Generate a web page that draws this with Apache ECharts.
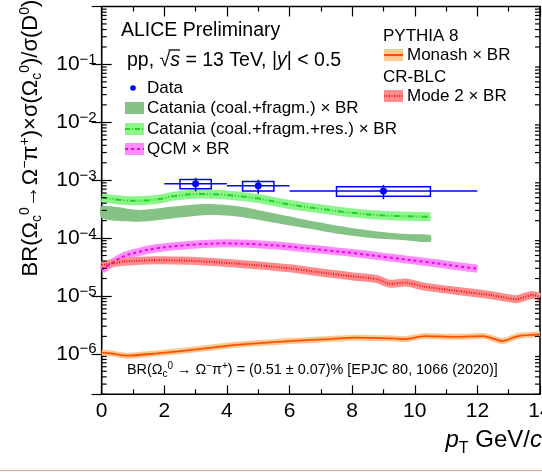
<!DOCTYPE html>
<html>
<head>
<meta charset="utf-8">
<script src="https://cdn.jsdelivr.net/npm/echarts@6/dist/echarts.min.js"></script>
<style>
html, body { margin: 0; padding: 0; background: #fff; overflow: hidden; }
#chart { width: 542px; height: 472px; }
</style>
</head>
<body>
<div id="chart"></div>
<script>
// ---- measured ratio: ALICE data points ----
const dataPt    = [3, 5, 9];
const dataVal   = [8.7e-4, 8.0e-4, 6.5e-4];
const dataXErr  = [1, 1, 3];
const dataStat  = [2.3e-4, 2.2e-4, 1.8e-4];
const dataSyst  = [1.6e-4, 1.5e-4, 1.2e-4];
const dataBoxHW = [0.5, 0.5, 1.5];

// ---- Catania (coal.+fragm.) band ----
const cataniaPt = [0, 1.2, 2.3, 3.36, 4.4, 5.5, 6.55, 7.6, 8.67, 9.7, 10.5];
const cataniaHi = [3.57e-4, 3.05e-4, 3.5e-4, 3.86e-4, 3.5e-4, 2.67e-4, 2.05e-4, 1.61e-4, 1.32e-4, 1.17e-4, 1.13e-4];
const cataniaLo = [2.19e-4, 1.91e-4, 2.19e-4, 2.49e-4, 2.33e-4, 1.84e-4, 1.47e-4, 1.17e-4, 9.9e-5, 9.2e-5, 8.6e-5];

// ---- Catania (coal.+fragm.+res.) ----
const cataniaResPt  = [0, 1.0, 1.76, 2.3, 3.14, 3.88, 4.95, 6.0, 7.08, 8.14, 9.21, 10.5];
const cataniaResVal = [5.0e-4, 4.4e-4, 4.65e-4, 5.3e-4, 5.75e-4, 5.6e-4, 4.85e-4, 3.8e-4, 3.15e-4, 2.67e-4, 2.43e-4, 2.33e-4];

// ---- QCM ----
const qcmPt  = [0, 0.67, 1.2, 1.7, 2.8, 3.9, 4.95, 6.0, 7.1, 8.1, 9.2, 10.3, 11.3, 12.0];
const qcmVal = [2.8e-5, 4.75e-5, 5.8e-5, 6.6e-5, 7.6e-5, 8.1e-5, 7.8e-5, 7.1e-5, 6.2e-5, 5.45e-5, 4.6e-5, 3.9e-5, 3.3e-5, 2.95e-5];

// ---- PYTHIA 8 CR-BLC Mode 2 ----
const crPt  = [0, 0.67, 1.76, 2.8, 3.9, 4.95, 6.0, 7.1, 8.1, 8.8, 9.2, 9.7, 10.3, 11.3, 12.4, 13.25, 13.75, 14];
const crVal = [3.4e-5, 3.9e-5, 4.15e-5, 4.05e-5, 3.75e-5, 3.4e-5, 3.0e-5, 2.5e-5, 2.15e-5, 1.95e-5, 1.62e-5, 1.7e-5, 1.45e-5, 1.23e-5, 1.04e-5, 8.8e-6, 1.04e-5, 9.6e-6];

// ---- PYTHIA 8 Monash ----
const monashPt  = [0, 0.27, 0.8, 1.76, 2.82, 4.2, 4.95, 6.0, 7.1, 8.1, 9.2, 9.7, 10.3, 11.3, 12.2, 12.8, 13.3, 14];
const monashVal = [1.05e-6, 1.02e-6, 9.3e-7, 1.02e-6, 1.16e-6, 1.42e-6, 1.52e-6, 1.66e-6, 1.78e-6, 1.9e-6, 1.85e-6, 1.8e-6, 2.03e-6, 1.97e-6, 2.03e-6, 1.66e-6, 2.03e-6, 2.17e-6];

// ---- axes ----
const xMin = 0, xMax = 14, xStep = 2;
const yMin = 2e-7, yMax = 1;

const FONT = '"Liberation Sans", Arial, Helvetica, sans-serif';
const zip = (xs, ys) => xs.map((x, i) => [x, ys[i]]);

// minor log ticks: 2..9 x 10^e inside the y range
const yMinorTicks = [];
for (let e = -7; e <= -1; e++) {
  for (let k = 2; k <= 9; k++) {
    const v = k * Math.pow(10, e);
    if (v >= yMin && v <= yMax) yMinorTicks.push([xMin, v]);
  }
}

const chart = echarts.init(document.getElementById('chart'), null, { renderer: 'canvas' });

const axisTickStyle = { color: '#000', width: 1.2 };

const titleRich = {
  n:  { fontSize: 22, lineHeight: 26, fontFamily: FONT, color: '#000' },
  i:  { fontSize: 22, lineHeight: 26, fontFamily: FONT, color: '#000', fontStyle: 'italic' },
  sp: { fontSize: 14, lineHeight: 14, fontFamily: FONT, color: '#000', verticalAlign: 'top' },
  sb: { fontSize: 14, lineHeight: 14, fontFamily: FONT, color: '#000', verticalAlign: 'bottom' }
};
const xTitleRich = {
  n:  { fontSize: 24, lineHeight: 34, fontFamily: FONT, color: '#000' },
  i:  { fontSize: 24, lineHeight: 34, fontFamily: FONT, color: '#000', fontStyle: 'italic' },
  sb: { fontSize: 16, lineHeight: 16, fontFamily: FONT, color: '#000', verticalAlign: 'bottom' }
};
const smallRich = {
  n:  { fontSize: 14.4, lineHeight: 18, fontFamily: FONT, color: '#000' },
  sp: { fontSize: 10, lineHeight: 10, fontFamily: FONT, color: '#000', verticalAlign: 'top' },
  sb: { fontSize: 10, lineHeight: 10, fontFamily: FONT, color: '#000', verticalAlign: 'bottom' }
};
const headRich = {
  n: { fontSize: 19.5, fontFamily: FONT, color: '#000' },
  i: { fontSize: 19.5, fontFamily: FONT, color: '#000', fontStyle: 'italic' }
};

function legendText(x, y, txt, size) {
  return { type: 'text', x: x, y: y, z: 100,
    style: { text: txt, fontSize: size || 17, fontFamily: FONT, fill: '#000', align: 'left', verticalAlign: 'middle' } };
}
function legendBox(x, y, fill, lineColor, dash, lw) {
  const g = { type: 'group', x: x, y: y, z: 100, children: [
    { type: 'rect', shape: { x: 0, y: -6, width: 19, height: 12 }, style: { fill: fill } }
  ] };
  if (lineColor) {
    g.children.push({ type: 'line', shape: { x1: 0, y1: 0, x2: 19, y2: 0 },
      style: { stroke: lineColor, lineWidth: lw || 2, lineDash: dash || null } });
  }
  return g;
}

const option = {
  animation: false,
  backgroundColor: '#fff',
  grid: { left: 101.7, right: 2, top: 6.5, bottom: 77.7, outerBoundsMode: 'none', containLabel: false,
    show: true, borderColor: '#000', borderWidth: 1.6, backgroundColor: 'transparent' },
  xAxis: [
    { type: 'value', min: xMin, max: xMax, interval: xStep, position: 'bottom',
      axisLine: { show: false },
      axisTick: { inside: true, length: 9, lineStyle: axisTickStyle },
      minorTick: { show: true, splitNumber: 2, length: 5, lineStyle: axisTickStyle },
      splitLine: { show: false },
      axisLabel: { fontSize: 21, color: '#000', fontFamily: FONT, margin: 6, showMaxLabel: true, hideOverlap: false } },
    { type: 'value', min: xMin, max: xMax, interval: xStep, position: 'top',
      axisLine: { show: false },
      axisTick: { inside: true, length: 10, lineStyle: axisTickStyle },
      minorTick: { show: true, splitNumber: 2, length: 5, lineStyle: axisTickStyle },
      splitLine: { show: false }, axisLabel: { show: false } }
  ],
  yAxis: [
    { type: 'log', logBase: 10, min: yMin, max: yMax, splitNumber: 7, position: 'left',
      axisLine: { show: false },
      axisTick: { inside: true, length: 10, lineStyle: axisTickStyle },
      splitLine: { show: false },
      axisLabel: {
        margin: 5, color: '#000', showMinLabel: false, showMaxLabel: false,
        formatter: function (v) {
          const l = Math.log10(v), e = Math.round(l);
          if (Math.abs(l - e) > 1e-6 || e >= 0) return '';
          return '{b|10}{s|\u2212' + (-e) + '}';
        },
        rich: {
          b: { fontSize: 21, lineHeight: 24, fontFamily: FONT, color: '#000' },
          s: { fontSize: 15, lineHeight: 15, fontFamily: FONT, color: '#000', verticalAlign: 'top' }
        }
      } },
    { type: 'log', logBase: 10, min: yMin, max: yMax, splitNumber: 7, position: 'right',
      axisLine: { show: false },
      axisTick: { inside: true, length: 10, lineStyle: axisTickStyle },
      splitLine: { show: false }, axisLabel: { show: false } }
  ],
  graphic: [
    // y-axis title
    { type: 'text', x: 31, y: 138, rotation: Math.PI / 2, z: 100,
      style: { text: '{n|BR(\u03A9}{sb|c}{sp|0}{n|\u2192\u03A9}{sp|\u2212}{n|\u03C0}{sp|+}{n|)\u00D7\u03C3(\u03A9}{sb|c}{sp|0}{n|)/\u03C3(D}{sp|0}{n|)}',
        rich: titleRich, align: 'center', verticalAlign: 'middle' } },
    // x-axis title
    { type: 'text', x: 542, y: 440, z: 100,
      style: { text: '{i|p}{sb|T}{n| GeV/}{i|c}', rich: xTitleRich, align: 'right', verticalAlign: 'middle' } },
    // header
    { type: 'text', x: 121, y: 31, z: 100,
      style: { text: 'ALICE Preliminary', fontSize: 19.5, fontFamily: FONT, fill: '#000', verticalAlign: 'middle' } },
    { type: 'text', x: 127, y: 61, z: 100,
      style: { text: '{n|pp, \u221A}{i|s}{n| = 13 TeV, |}{i|y}{n|| < 0.5}', rich: headRich, verticalAlign: 'middle' } },
    { type: 'line', shape: { x1: 168.5, y1: 50, x2: 180, y2: 50 }, style: { stroke: '#000', lineWidth: 1.3 }, z: 100 },
    // left legend
    { type: 'circle', shape: { cx: 133, cy: 88, r: 2.8 }, style: { fill: '#0000ff' }, z: 100 },
    legendText(147, 88, 'Data'),
    legendBox(125, 108, '#85c285'),
    legendText(147, 108, 'Catania (coal.+fragm.) \u00D7 BR'),
    legendBox(125, 129, '#8cf58c', '#1fd21f', [5, 2, 1, 2], 2),
    legendText(147, 129, 'Catania (coal.+fragm.+res.) \u00D7 BR'),
    legendBox(125, 149, '#ff8cff', '#f000f0', [3, 3], 2),
    legendText(147, 149, 'QCM \u00D7 BR'),
    // right legend
    legendText(383, 36, 'PYTHIA 8'),
    legendBox(384, 55, '#ffc890', '#ff5000', null, 2),
    legendText(407, 55, 'Monash \u00D7 BR'),
    legendText(383, 77, 'CR-BLC'),
    legendBox(384, 96, '#ff8c8c', '#ee1010', [1, 1.5], 2),
    legendText(407, 96, 'Mode 2 \u00D7 BR'),
    // branching ratio note
    { type: 'text', x: 127, y: 370, z: 100,
      style: { text: '{n|BR(\u03A9}{sb|c}{sp|0}{n| \u2192 \u03A9}{sp|\u2212}{n|\u03C0}{sp|+}{n|) = (0.51 \u00B1 0.07)% [EPJC 80, 1066 (2020)]}',
        rich: smallRich, verticalAlign: 'middle' } },
    // bottom rule
    { type: 'line', shape: { x1: 0, y1: 470.5, x2: 542, y2: 470.5 }, style: { stroke: '#f3a0a0', lineWidth: 1 }, z: 100 }
  ],
  series: [
    // minor log ticks on both vertical frame edges
    { name: 'yMinorTicks', type: 'custom', xAxisIndex: 0, yAxisIndex: 0, silent: true, z: 20,
      data: yMinorTicks,
      renderItem: function (params, api) {
        const v = api.value(1);
        const l = api.coord([xMin, v]), r = api.coord([xMax, v]);
        return { type: 'group', children: [
          { type: 'line', shape: { x1: l[0], y1: l[1], x2: l[0] + 5, y2: l[1] }, style: { stroke: '#000', lineWidth: 1.2 } },
          { type: 'line', shape: { x1: r[0], y1: r[1], x2: r[0] - 5, y2: r[1] }, style: { stroke: '#000', lineWidth: 1.2 } }
        ] };
      } },
    // Catania (coal.+fragm.) filled band
    { name: 'Catania (coal.+fragm.)', type: 'custom', xAxisIndex: 0, yAxisIndex: 0, z: 3,
      data: [0],
      renderItem: function (params, api) {
        const up = cataniaPt.map((x, i) => api.coord([x, cataniaHi[i]]));
        const lo = cataniaPt.map((x, i) => api.coord([x, cataniaLo[i]])).reverse();
        return { type: 'polygon', shape: { points: up.concat(lo), smooth: 0.25 }, style: { fill: '#85c285' } };
      } },
    // Catania (coal.+fragm.+res.)
    { name: 'Catania res band', type: 'line', data: zip(cataniaResPt, cataniaResVal), smooth: 0.35, showSymbol: false, z: 4,
      lineStyle: { color: '#8cf58c', width: 9, cap: 'butt', join: 'round' } },
    { name: 'Catania (coal.+fragm.+res.)', type: 'line', data: zip(cataniaResPt, cataniaResVal), smooth: 0.35, showSymbol: false, z: 5,
      lineStyle: { color: '#1fd21f', width: 2, type: [6, 2, 1, 2, 1, 2] } },
    // QCM
    { name: 'QCM band', type: 'line', data: zip(qcmPt, qcmVal), smooth: 0.35, showSymbol: false, z: 4,
      lineStyle: { color: '#ff8cff', width: 8, cap: 'butt', join: 'round' } },
    { name: 'QCM', type: 'line', data: zip(qcmPt, qcmVal), smooth: 0.35, showSymbol: false, z: 5,
      lineStyle: { color: '#f000f0', width: 2, type: [3, 3] } },
    // CR-BLC Mode 2
    { name: 'Mode 2 band', type: 'line', data: zip(crPt, crVal), smooth: 0.2, showSymbol: false, z: 4,
      lineStyle: { color: '#ff8c8c', width: 8, cap: 'butt', join: 'round' } },
    { name: 'Mode 2', type: 'line', data: zip(crPt, crVal), smooth: 0.2, showSymbol: false, z: 5,
      lineStyle: { color: '#ee1010', width: 2, type: [1, 1.5] } },
    // Monash
    { name: 'Monash band', type: 'line', data: zip(monashPt, monashVal), smooth: 0.2, showSymbol: false, z: 4,
      lineStyle: { color: '#ffc890', width: 6, cap: 'butt', join: 'round' } },
    { name: 'Monash', type: 'line', data: zip(monashPt, monashVal), smooth: 0.2, showSymbol: false, z: 5,
      lineStyle: { color: '#ff5000', width: 1.8 } },
    // data with stat. bars and syst. boxes
    { name: 'Data', type: 'custom', xAxisIndex: 0, yAxisIndex: 0, z: 10,
      data: dataPt.map((x, i) => [x, dataVal[i], dataXErr[i], dataStat[i], dataSyst[i], dataBoxHW[i]]),
      encode: { x: 0, y: 1 },
      renderItem: function (params, api) {
        const x = api.value(0), y = api.value(1), xe = api.value(2), st = api.value(3), sy = api.value(4), bw = api.value(5);
        const c = api.coord([x, y]);
        const l = api.coord([x - xe, y]), r = api.coord([x + xe, y]);
        const sT = api.coord([x, y + st]), sB = api.coord([x, y - st]);
        const b1 = api.coord([x - bw, y + sy]), b2 = api.coord([x + bw, y - sy]);
        const st1 = { stroke: '#0000ff', lineWidth: 1.5, fill: null };
        return { type: 'group', children: [
          { type: 'line', shape: { x1: l[0], y1: c[1], x2: r[0], y2: c[1] }, style: st1 },
          { type: 'rect', shape: { x: b1[0], y: b1[1], width: b2[0] - b1[0], height: b2[1] - b1[1] }, style: st1 },
          { type: 'line', shape: { x1: c[0], y1: sT[1], x2: c[0], y2: sB[1] }, style: st1 },
          { type: 'circle', shape: { cx: c[0], cy: c[1], r: 3.5 }, style: { fill: '#0000ff' } }
        ] };
      } }
  ]
};

chart.setOption(option);
</script>
</body>
</html>
